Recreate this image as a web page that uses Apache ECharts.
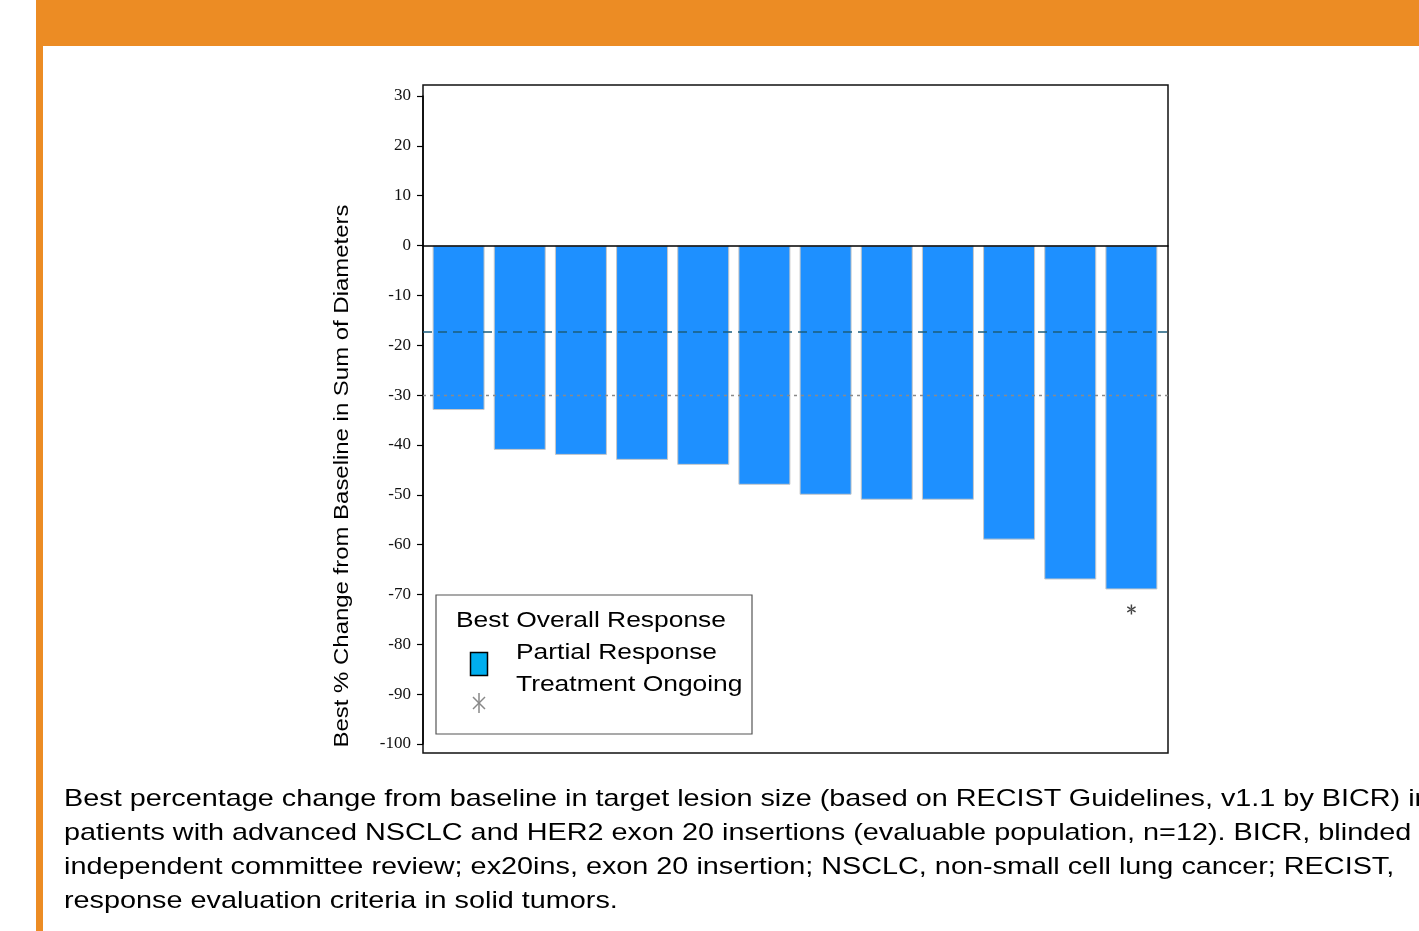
<!DOCTYPE html>
<html>
<head>
<meta charset="utf-8">
<script src="https://cdn.jsdelivr.net/npm/echarts/dist/echarts.min.js"></script>
<style>
  html, body { margin: 0; padding: 0; background: #fff; width: 1419px; height: 931px; overflow: hidden; }
  #chart { position: absolute; left: 0; top: 0; width: 1419px; height: 931px; }
  .band { position: absolute; background: #EC8C24; }
  #caption {
    position: absolute; left: 64px; top: 781px; width: 1400px;
    font-family: "Liberation Sans", Arial, sans-serif; font-size: 24px; line-height: 34px;
    color: #000; white-space: nowrap; transform: scaleX(1.2); transform-origin: 0 0;
  }
</style>
</head>
<body>
<div id="chart"></div>
<div class="band" style="left:36px; top:0; width:1383px; height:46px;"></div>
<div class="band" style="left:36px; top:0; width:7px; height:931px;"></div>
<div id="caption">Best percentage change from baseline in target lesion size (based on RECIST Guidelines, v1.1 by BICR) in<br>patients with advanced NSCLC and HER2 exon 20 insertions (evaluable population, n=12). BICR, blinded<br>independent committee review; ex20ins, exon 20 insertion; NSCLC, non-small cell lung cancer; RECIST,<br>response evaluation criteria in solid tumors.</div>
<script>
// One bar per evaluable patient, sorted by best % change
const patients = ['1', '2', '3', '4', '5', '6', '7', '8', '9', '10', '11', '12'];
const bestChange = [-33, -41, -42, -43, -44, -48, -50, -51, -51, -59, -67, -69];
// Patients still on treatment, with the height of their marker
const ongoingPatients = ['12'];
const ongoingMarkerY = [-73];
// Reference lines
const dashedRef = [-17.2];
const responseThreshold = [-30];
const yTicks = { min: -100, max: 30, step: 10 };

const asterisk = 'path://M-0.75,-5L0.75,-5L0.75,5L-0.75,5Z' +
  'M3.96,3.15L4.71,1.85L-3.96,-3.15L-4.71,-1.85Z' +
  'M3.96,-3.15L4.71,-1.85L-3.96,3.15L-4.71,1.85Z';

const chart = echarts.init(document.getElementById('chart'), null, { renderer: 'canvas' });

const plotTop = 96, plotHeight = 648;

const option = {
  animation: false,
  backgroundColor: 'transparent',
  grid: [
    // outer frame
    { left: 423, top: 85, width: 745, height: 668, show: true, borderColor: '#111', borderWidth: 1.5, backgroundColor: 'transparent' },
    // value axis and zero line (30 .. -100)
    { left: 423, top: plotTop, width: 745, height: plotHeight },
    // bars, inset slightly from the frame
    { left: 428, top: plotTop, width: 734, height: plotHeight }
  ],
  xAxis: [
    { gridIndex: 0, type: 'value', show: false, min: 0, max: 1 },
    {
      gridIndex: 1, type: 'value', min: 0, max: 1, z: 5,
      axisLine: { show: true, onZero: true, lineStyle: { color: '#000', width: 1.5 } },
      axisTick: { show: false }, axisLabel: { show: false }, splitLine: { show: false }
    },
    {
      gridIndex: 2, type: 'category', data: patients, show: false
    }
  ],
  yAxis: [
    { gridIndex: 0, type: 'value', show: false, min: 0, max: 1 },
    {
      gridIndex: 1, type: 'value', min: yTicks.min, max: yTicks.max, interval: yTicks.step,
      axisLine: { show: true, lineStyle: { color: '#000', width: 1.5 } },
      axisTick: { show: true, length: 6, lineStyle: { color: '#000', width: 1.2 } },
      axisLabel: { fontFamily: '"Liberation Serif", "Times New Roman", serif', fontSize: 17, color: '#111', margin: 12 },
      splitLine: { show: false }
    },
    {
      gridIndex: 2, type: 'value', min: yTicks.min, max: yTicks.max, interval: yTicks.step, show: false
    }
  ],
  series: [
    {
      type: 'bar', xAxisIndex: 2, yAxisIndex: 2,
      data: bestChange,
      barWidth: 52,
      itemStyle: { color: '#1E90FF', borderColor: '#C8C8C8', borderWidth: 1 }
    },
    {
      // reference lines spanning the whole frame width
      type: 'line', xAxisIndex: 1, yAxisIndex: 1, data: [], z: 4,
      markLine: {
        silent: true, symbol: 'none', label: { show: false },
        data: [
          ...dashedRef.map(v => ({ yAxis: v, lineStyle: { color: '#1B5E7E', type: [9, 6], width: 1.6 } })),
          ...responseThreshold.map(v => ({ yAxis: v, lineStyle: { color: '#8A8A8A', type: [3, 4], width: 1.4 } }))
        ]
      }
    },
    {
      type: 'scatter', xAxisIndex: 2, yAxisIndex: 2, z: 6,
      symbol: asterisk, symbolSize: [9, 10],
      itemStyle: { color: '#111' },
      data: ongoingPatients.map((p, i) => [p, ongoingMarkerY[i]])
    }
  ],
  graphic: [
    {
      type: 'text', x: 342, y: 476, rotation: Math.PI / 2, scaleX: 1.14,
      style: {
        text: 'Best % Change from Baseline in Sum of Diameters',
        fontFamily: '"Liberation Sans", Arial, sans-serif', fontSize: 21, fill: '#000',
        align: 'center', verticalAlign: 'middle'
      }
    },
    {
      type: 'group', z: 20,
      children: [
        { type: 'rect', shape: { x: 436, y: 595, width: 316, height: 139 }, style: { fill: '#fff', stroke: '#555', lineWidth: 1.2 } },
        { type: 'text', x: 456, y: 621, scaleX: 1.2, style: { text: 'Best Overall Response', fontFamily: '"Liberation Sans", Arial, sans-serif', fontSize: 22, fill: '#000', verticalAlign: 'middle' } },
        { type: 'text', x: 516, y: 653, scaleX: 1.2, style: { text: 'Partial Response', fontFamily: '"Liberation Sans", Arial, sans-serif', fontSize: 22, fill: '#000', verticalAlign: 'middle' } },
        { type: 'text', x: 516, y: 685, scaleX: 1.2, style: { text: 'Treatment Ongoing', fontFamily: '"Liberation Sans", Arial, sans-serif', fontSize: 22, fill: '#000', verticalAlign: 'middle' } },
        { type: 'rect', shape: { x: 470.5, y: 652.5, width: 17, height: 23 }, style: { fill: '#00AEEF', stroke: '#000', lineWidth: 1.5 } },
        { type: 'line', shape: { x1: 479, y1: 693, x2: 479, y2: 713 }, style: { stroke: '#888', lineWidth: 1.5 } },
        { type: 'line', shape: { x1: 473, y1: 697, x2: 485, y2: 709 }, style: { stroke: '#888', lineWidth: 1.5 } },
        { type: 'line', shape: { x1: 485, y1: 697, x2: 473, y2: 709 }, style: { stroke: '#888', lineWidth: 1.5 } }
      ]
    }
  ]
};

chart.setOption(option);
</script>
</body>
</html>
